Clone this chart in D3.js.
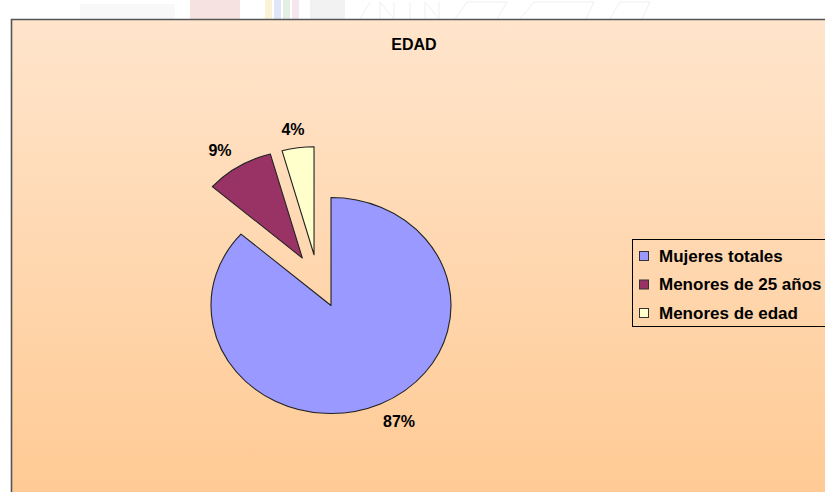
<!DOCTYPE html>
<html>
<head>
<meta charset="utf-8">
<script src="https://cdn.jsdelivr.net/npm/d3@7"></script>
<style>
  html, body { margin: 0; padding: 0; background: #fff; }
  svg { display: block; }
  text { font-family: "Liberation Sans", Arial, sans-serif; font-weight: bold; fill: #000; }
</style>
</head>
<body>
<div id="chart"></div>
<script>
var chartTitle = 'EDAD';
var categories = ['Mujeres totales', 'Menores de 25 años', 'Menores de edad'];
var values = [86.5, 9.2, 4.3];
var colors = ['#9999FF', '#993366', '#FFFFCC'];
var explode = [0, 54, 53];
var explodeTurn = [0, 3.5, -9]; // degrees, the exploded slices do not move quite along their middles

var width = 825;
var height = 492;
var chartTop = 19;
var cx = 331;
var cy = 305.5;
var radius = 108;
var stretch = 1.111; // the picture is a bit wider than tall
var labelRadius = 120;

var svg = d3.select('#chart')
  .append('svg')
  .attr('width', width)
  .attr('height', height);

var defs = svg.append('defs');
var grad = defs.append('linearGradient')
  .attr('id', 'bg')
  .attr('x1', 0).attr('y1', 0)
  .attr('x2', 0).attr('y2', 1);
grad.append('stop').attr('offset', '0%').attr('stop-color', '#FFE5CC');
grad.append('stop').attr('offset', '100%').attr('stop-color', '#FFC992');

// faint logo strip above the chart
var strip = svg.append('g').attr('opacity', 0.25);
strip.append('rect').attr('x', 80).attr('y', 4).attr('width', 95).attr('height', chartTop - 4).attr('fill', '#e4e4e4');
strip.append('rect').attr('x', 190).attr('y', 0).attr('width', 50).attr('height', chartTop).attr('fill', '#e29090');
['#f0d060', '#80a0e0', '#90c090', '#e0a0c0'].forEach(function(c, i) {
  strip.append('rect').attr('x', 265 + i * 9).attr('y', 0).attr('width', 7).attr('height', chartTop).attr('fill', c);
});
strip.append('rect').attr('x', 310).attr('y', 0).attr('width', 35).attr('height', chartTop).attr('fill', '#ccc');
strip.append('path')
  .attr('d', 'M360,19l10,-17M380,19v-17l14,17v-17M410,19v-17M425,19v-17l14,17v-17M455,19l12,-17h40l-10,17M520,19l14,-17h60l-8,17M610,19l10,-17h30l-8,17')
  .attr('fill', 'none')
  .attr('stroke', '#aaa')
  .attr('opacity', 0.7);

// chart area
svg.append('rect')
  .attr('x', 11)
  .attr('y', chartTop)
  .attr('width', width)
  .attr('height', height)
  .attr('fill', 'url(#bg)');

svg.append('path')
  .attr('d', 'M11.5,' + height + 'V' + (chartTop + 0.5) + 'H' + width)
  .attr('fill', 'none')
  .attr('stroke', '#555')
  .attr('stroke-width', 1.6);

svg.append('text')
  .attr('x', 414)
  .attr('y', 50)
  .attr('text-anchor', 'middle')
  .style('font-size', '16px')
  .text(chartTitle);

var total = d3.sum(values);
var pie = d3.pie().sort(null).value(function(d) { return d; });
var arcs = pie(values);
var arc = d3.arc().innerRadius(0).outerRadius(radius);

function midAngle(d) {
  return (d.startAngle + d.endAngle) / 2;
}

// where the slice tip ends up once exploded, unscaled
function shift(d, i) {
  var a = midAngle(d) + explodeTurn[i] * Math.PI / 180;
  return [Math.sin(a) * explode[i], -Math.cos(a) * explode[i]];
}

var pieG = svg.append('g')
  .attr('transform', 'translate(' + cx + ',' + cy + ') scale(' + stretch + ',1)');

pieG.selectAll('path.slice')
  .data(arcs)
  .enter()
  .append('path')
  .attr('class', 'slice')
  .attr('d', arc)
  .attr('transform', function(d, i) {
    var o = shift(d, i);
    return 'translate(' + o[0] + ',' + o[1] + ')';
  })
  .attr('fill', function(d, i) { return colors[i]; })
  .attr('stroke', '#222')
  .attr('stroke-width', 1)
  .attr('stroke-linejoin', 'round');

var labels = svg.selectAll('text.pct')
  .data(arcs)
  .enter()
  .append('text')
  .attr('class', 'pct')
  .attr('text-anchor', 'middle')
  .attr('dy', '0.36em')
  .style('font-size', '16px')
  .text(function(d) { return Math.round(d.value / total * 100) + '%'; });

// label box sits just outside the slice, on its middle line
labels.each(function(d, i) {
  var a = midAngle(d);
  var o = shift(d, i);
  var w = this.getComputedTextLength();
  var h = 13;
  var px = (o[0] + Math.sin(a) * labelRadius) * stretch;
  var py = o[1] - Math.cos(a) * labelRadius;
  px += w / 2 * Math.max(-1, Math.min(1, Math.sin(a) * 2));
  py += h / 2 * (Math.cos(a) > 0 ? -1 : 1);
  d3.select(this).attr('x', cx + px).attr('y', cy + py);
});

// legend
var legend = svg.append('g');
legend.append('rect')
  .attr('x', 632.5)
  .attr('y', 239.5)
  .attr('width', 220)
  .attr('height', 87)
  .attr('fill', 'none')
  .attr('stroke', '#000')
  .attr('stroke-width', 1);

var items = legend.selectAll('g.item')
  .data(categories)
  .enter()
  .append('g')
  .attr('class', 'item')
  .attr('transform', function(d, i) { return 'translate(0,' + (i * 28.5) + ')'; });

items.append('rect')
  .attr('x', 639.5)
  .attr('y', 251.5)
  .attr('width', 9)
  .attr('height', 9)
  .attr('fill', function(d, i) { return colors[i]; })
  .attr('stroke', '#333');

items.append('text')
  .attr('x', 659)
  .attr('y', 261.5)
  .style('font-size', '17px')
  .text(function(d) { return d; });
</script>
</body>
</html>
